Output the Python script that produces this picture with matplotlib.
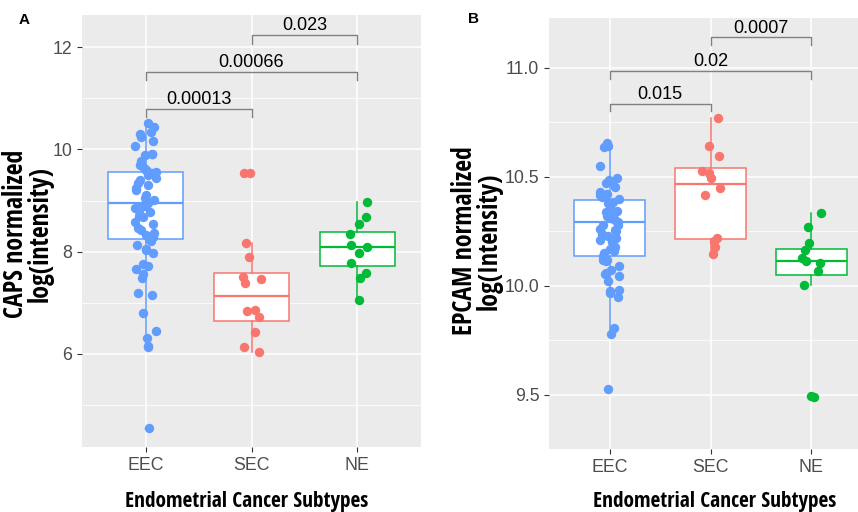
import numpy as np
import matplotlib.pyplot as plt

plt.rcParams['font.family'] = ['Liberation Sans', 'DejaVu Sans']

groups = ['EEC', 'SEC', 'NE']
colors = ['#619CFF', '#F8766D', '#00BA38']

# CAPS normalized log(intensity)
caps_eec = [10.52, 10.44, 10.35, 10.31, 10.25, 10.17, 10.07, 9.92, 9.91, 9.90,
            9.78, 9.73, 9.69, 9.63, 9.60, 9.58, 9.56, 9.53, 9.50, 9.45, 9.40,
            9.35, 9.30, 9.24, 9.20, 9.11, 9.05, 9.01, 8.96, 8.91, 8.90, 8.88,
            8.85, 8.80, 8.78, 8.70, 8.68, 8.59, 8.55, 8.46, 8.42, 8.36, 8.32,
            8.28, 8.24, 8.21, 8.13, 8.05, 8.03, 7.97, 7.75, 7.72, 7.67, 7.56,
            7.49, 7.19, 7.15, 6.81, 6.45, 6.31, 6.16, 6.14, 4.56]
caps_sec = [9.54, 9.53, 8.18, 7.90, 7.50, 7.46, 7.38, 6.86, 6.84, 6.73, 6.42,
            6.14, 6.03]
caps_ne = [8.98, 8.68, 8.55, 8.34, 8.13, 8.10, 7.97, 7.77, 7.58, 7.49, 7.06]

caps_q1 = [8.24, 6.65, 7.72]
caps_med = [8.95, 7.13, 8.10]
caps_q3 = [9.55, 7.59, 8.39]
caps_lo = [6.14, 6.03, 7.06]
caps_hi = [10.52, 8.18, 8.98]
caps_out = [[4.56], [9.54], []]

caps_pvals = ['0.00013', '0.00066', '0.023']
caps_pairs = [(0, 1), (0, 2), (1, 2)]
caps_bar_y = [10.80, 11.52, 12.24]

# EPCAM normalized log(Intensity)
epcam_eec = [10.654, 10.643, 10.636, 10.552, 10.496, 10.485, 10.475, 10.47,
             10.456, 10.43, 10.42, 10.419, 10.407, 10.397, 10.383, 10.38,
             10.365, 10.345, 10.34, 10.33, 10.327, 10.32, 10.31, 10.303,
             10.292, 10.28, 10.278, 10.26, 10.257, 10.253, 10.24, 10.229,
             10.219, 10.21, 10.20, 10.18, 10.169, 10.16, 10.149, 10.135,
             10.12, 10.117, 10.112, 10.09, 10.074, 10.06, 10.056, 10.046,
             10.022, 9.979, 9.976, 9.969, 9.948, 9.806, 9.78, 9.525]
epcam_sec = [10.772, 10.643, 10.594, 10.527, 10.517, 10.496, 10.447, 10.416,
             10.222, 10.204, 10.18, 10.145]
epcam_ne = [10.334, 10.268, 10.197, 10.166, 10.126, 10.112, 10.107, 10.067,
            10.004, 9.492, 9.494]

epcam_q1 = [10.135, 10.216, 10.052]
epcam_med = [10.295, 10.469, 10.115]
epcam_q3 = [10.396, 10.541, 10.171]
epcam_lo = [9.78, 10.145, 10.004]
epcam_hi = [10.654, 10.772, 10.334]
epcam_out = [[9.525], [], [9.49]]

epcam_pvals = ['0.015', '0.02', '0.0007']
epcam_pairs = [(0, 1), (0, 2), (1, 2)]
epcam_bar_y = [10.836, 10.985, 11.14]

rng = np.random.default_rng(7)


def draw_panel(ax, points, q1, med, q3, lo, hi, out, pvals, pairs, bar_y,
               ylim, yticks, fmt, tip):
    ax.set_facecolor('#EBEBEB')
    for s in ax.spines.values():
        s.set_visible(False)

    stats = []
    for i in range(3):
        stats.append(dict(med=med[i], q1=q1[i], q3=q3[i], whislo=lo[i],
                          whishi=hi[i], fliers=out[i]))
    bp = ax.bxp(stats, positions=[1, 2, 3], widths=0.7, showcaps=False,
                patch_artist=True, zorder=2,
                flierprops=dict(marker='o', markersize=2.5, markeredgewidth=0))
    for i in range(3):
        bp['boxes'][i].set(facecolor='white', edgecolor=colors[i], linewidth=1.1)
        bp['medians'][i].set(color=colors[i], linewidth=1.6)
        bp['fliers'][i].set(markerfacecolor=colors[i])
        for w in bp['whiskers'][2 * i:2 * i + 2]:
            w.set(color=colors[i], linewidth=1.1)

    # jittered points on top of the boxes
    for i, vals in enumerate(points):
        x = i + 1 + rng.uniform(-0.1, 0.1, len(vals))
        ax.scatter(x, vals, s=46, color=colors[i], linewidths=0, zorder=3)

    # significance brackets
    for (a, b), y, p in zip(pairs, bar_y, pvals):
        ax.plot([a + 1, a + 1, b + 1, b + 1], [y - tip, y, y, y - tip],
                color='#808080', linewidth=1.0, zorder=4)
        ax.annotate(p, ((a + b) / 2 + 1, y), xytext=(0, 3.5),
                    textcoords='offset points', ha='center', va='baseline',
                    fontsize=13, color='black')

    ax.set_xlim(0.4, 3.6)
    ax.set_ylim(*ylim)
    ax.set_xticks([1, 2, 3])
    ax.set_xticklabels(groups)
    ax.set_yticks(yticks)
    ax.set_yticklabels([fmt % t for t in yticks])
    ax.set_yticks([(yticks[k] + yticks[k + 1]) / 2 for k in range(len(yticks) - 1)]
                  + [yticks[0] - (yticks[1] - yticks[0]) / 2], minor=True)
    ax.tick_params(axis='both', which='major', colors='#333333', labelcolor='#4D4D4D',
                   labelsize=12.8, length=3.5, width=0.8)
    ax.tick_params(axis='both', which='minor', length=0)
    ax.grid(which='major', color='white', linewidth=1.1, zorder=0)
    ax.grid(which='minor', color='white', linewidth=0.55, zorder=0)
    ax.set_axisbelow(True)


fig = plt.figure(figsize=(8.58, 5.12), dpi=100)

axA = fig.add_axes([82 / 858, 65 / 512, 339 / 858, 432 / 512])
draw_panel(axA, [caps_eec, caps_sec, caps_ne], caps_q1, caps_med, caps_q3,
           caps_lo, caps_hi, caps_out, caps_pvals, caps_pairs, caps_bar_y,
           (4.18, 12.63), [6, 8, 10, 12], '%d', 0.17)

axB = fig.add_axes([549 / 858, 62.7 / 512, 323 / 858, 431 / 512])
draw_panel(axB, [epcam_eec, epcam_sec, epcam_ne], epcam_q1, epcam_med, epcam_q3,
           epcam_lo, epcam_hi, epcam_out, epcam_pvals, epcam_pairs, epcam_bar_y,
           (9.41, 11.228), [9.5, 10.0, 10.5, 11.0], '%.1f', 0.035)

title_font = ['Open Sans Condensed', 'DejaVu Sans Condensed', 'Noto Sans']
title_kw = dict(fontweight='bold', family=title_font, fontstretch='condensed')

fig.text(28 / 858, 1 - 234 / 512, 'CAPS normalized\nlog(intensity)', rotation=90,
         ha='center', va='center', fontsize=18.6, linespacing=0.88, **title_kw)
fig.text(477 / 858, 1 - 241 / 512, 'EPCAM normalized\nlog(Intensity)', rotation=90,
         ha='center', va='center', fontsize=18.6, linespacing=0.88, **title_kw)
fig.text(247 / 858, 1 - 501 / 512, 'Endometrial Cancer Subtypes', ha='center',
         va='center', fontsize=15.4, **title_kw)
fig.text(715 / 858, 1 - 501 / 512, 'Endometrial Cancer Subtypes', ha='center',
         va='center', fontsize=15.4, **title_kw)

fig.text(24 / 858, 1 - 20 / 512, 'A', ha='center', va='center', fontsize=11,
         fontweight='bold')
fig.text(474 / 858, 1 - 19 / 512, 'B', ha='center', va='center', fontsize=11,
         fontweight='bold')

fig.savefig('out.png', dpi=100)
